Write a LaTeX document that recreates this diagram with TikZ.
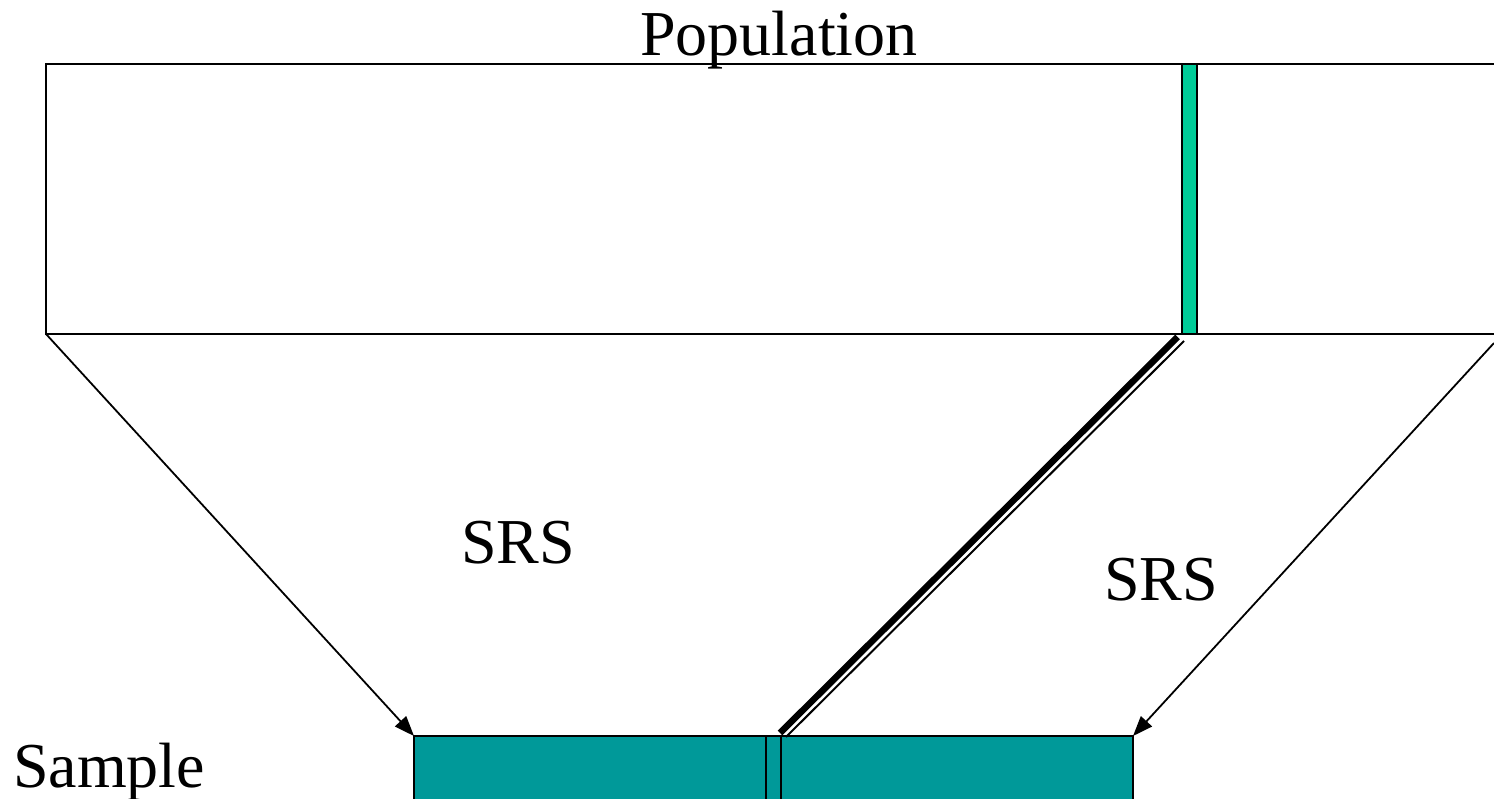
\documentclass[tikz,border=0pt]{standalone}
\usepackage{fontspec}
\setmainfont{Liberation Serif}
\usetikzlibrary{arrows.meta}
\definecolor{popgreen}{HTML}{00CC99}
\definecolor{sampteal}{HTML}{009999}
\tikzset{
  label/.style={font=\fontsize{64}{72}\selectfont, inner sep=0pt},
  edge/.style={line width=2.5pt},
  srsarrow/.style={line width=1.8pt, -{Triangle[length=20pt,width=15pt]}},
}
\begin{document}
\begin{tikzpicture}[x=1pt,y=-1pt]
\useasboundingbox (0,0) rectangle (1494,799);
% population frame
\coordinate (popTL) at (46,64);
\coordinate (popBL) at (46,334);
\coordinate (popTR) at (1494,64);
\coordinate (popBR) at (1494,334);
\draw[edge] (popTR) -- (popTL) -- (popBL) -- (popBR);
% selected stratum in population
\draw[edge, fill=popgreen] (1182,64) rectangle (1197,334);
% sample box
\coordinate (sampTL) at (414,736);
\coordinate (sampTR) at (1133,736);
\draw[edge, fill=sampteal] (414,810) -- (sampTL) -- (sampTR) -- (1133,810);
\draw[edge] (766,736) -- (766,810);
\draw[edge] (781,736) -- (781,810);
% double line
\coordinate (dA) at (1177.5,337);
\coordinate (dB) at (780,733);
\coordinate (dC) at (1184,341);
\coordinate (dD) at (786,737);
\draw[line width=6.5pt] (dA) -- (dB);
\draw[line width=2pt] (dC) -- (dD);
% arrows
\coordinate (rStart) at (1494,343);
\draw[srsarrow] (popBL) -- (sampTL);
\draw[srsarrow] (rStart) -- (sampTR);
% labels
\node[label, anchor=base] (pop) at (779,56) {Population};
\node[label, anchor=base] (srs1) at (518,563) {SRS};
\node[label, anchor=base] (srs2) at (1161,600) {SRS};
\node[label, anchor=base west] (samp) at (13,787) {Sample};
\end{tikzpicture}
\end{document}
